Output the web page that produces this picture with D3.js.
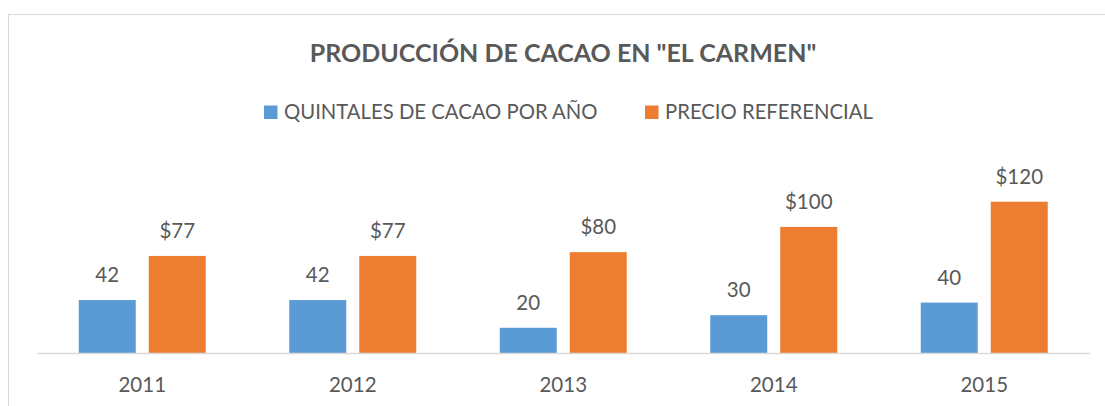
<!DOCTYPE html>
<html>
<head>
<meta charset="utf-8">
<script src="https://cdn.jsdelivr.net/npm/d3@7"></script>
<style>
  body { margin: 0; background: #fff; }
  text { font-family: Lato, "Open Sans", sans-serif; fill: #595959; }
</style>
</head>
<body>
<svg id="chart"></svg>
<script>
// data
const years = ["2011", "2012", "2013", "2014", "2015"];
const seriesNames = ["QUINTALES DE CACAO POR AÑO", "PRECIO REFERENCIAL"];
const quintales = [42, 42, 20, 30, 40];
const precio = [77, 77, 80, 100, 120];
const labelPrefix = ["", "$"];

const colors = ["#5B9BD5", "#ED7D31"];
const width = 1105, height = 406;

const svg = d3.select("#chart")
  .attr("width", width)
  .attr("height", height);

// chart frame
svg.append("rect")
  .attr("x", 8.5)
  .attr("y", 14.5)
  .attr("width", 1200)
  .attr("height", 500)
  .attr("fill", "none")
  .attr("stroke", "#D9D9D9");

svg.append("text")
  .attr("x", 563)
  .attr("y", 62)
  .attr("text-anchor", "middle")
  .attr("font-weight", "bold")
  .style("font-size", "25px")
  .text('PRODUCCIÓN DE CACAO EN "EL CARMEN"');

// legend
const legendX = [264, 645];
seriesNames.forEach((name, i) => {
  svg.append("rect")
    .attr("x", legendX[i])
    .attr("y", 105.5)
    .attr("width", 13.5)
    .attr("height", 13.5)
    .attr("fill", colors[i]);
  svg.append("text")
    .attr("x", legendX[i] + 20)
    .attr("y", 119)
    .style("font-size", "20.3px")
    .text(name);
});

const x0 = d3.scaleBand()
  .domain(years)
  .range([37, 1089.5]);

const x1 = d3.scaleBand()
  .domain([0, 1])
  .range([41.75, 168.75])
  .paddingInner(0.186);

const y = d3.scaleLinear()
  .domain([0, 140])
  .range([353, 176.5]);

const rows = years.map((yr, i) => ({ year: yr, values: [quintales[i], precio[i]] }));

const groups = svg.selectAll(".grp")
  .data(rows)
  .join("g")
    .attr("class", "grp")
    .attr("transform", d => `translate(${x0(d.year)},0)`);

groups.selectAll("rect")
  .data(d => d.values.map((v, j) => ({ v, j })))
  .join("rect")
    .attr("x", d => x1(d.j))
    .attr("y", d => y(d.v))
    .attr("width", x1.bandwidth())
    .attr("height", d => y(0) - y(d.v))
    .attr("fill", d => colors[d.j]);

groups.selectAll(".val")
  .data(d => d.values.map((v, j) => ({ v, j })))
  .join("text")
    .attr("class", "val")
    .attr("x", d => x1(d.j) + x1.bandwidth() / 2)
    .attr("y", d => y(d.v) - 18)
    .attr("text-anchor", "middle")
    .style("font-size", "20.5px")
    .text(d => labelPrefix[d.j] + d.v);

// category axis
const xAxis = d3.axisBottom(x0).tickSize(0).tickPadding(0);
const ax = svg.append("g")
  .attr("transform", `translate(0,${y(0)})`)
  .call(xAxis);
ax.select(".domain").attr("stroke", "#D9D9D9").attr("stroke-width", 1.5);
ax.selectAll("text")
  .attr("y", 39)
  .attr("dy", null)
  .style("font-size", "20.5px")
  .style("font-family", "Lato, 'Open Sans', sans-serif")
  .attr("fill", "#595959");
</script>
</body>
</html>
